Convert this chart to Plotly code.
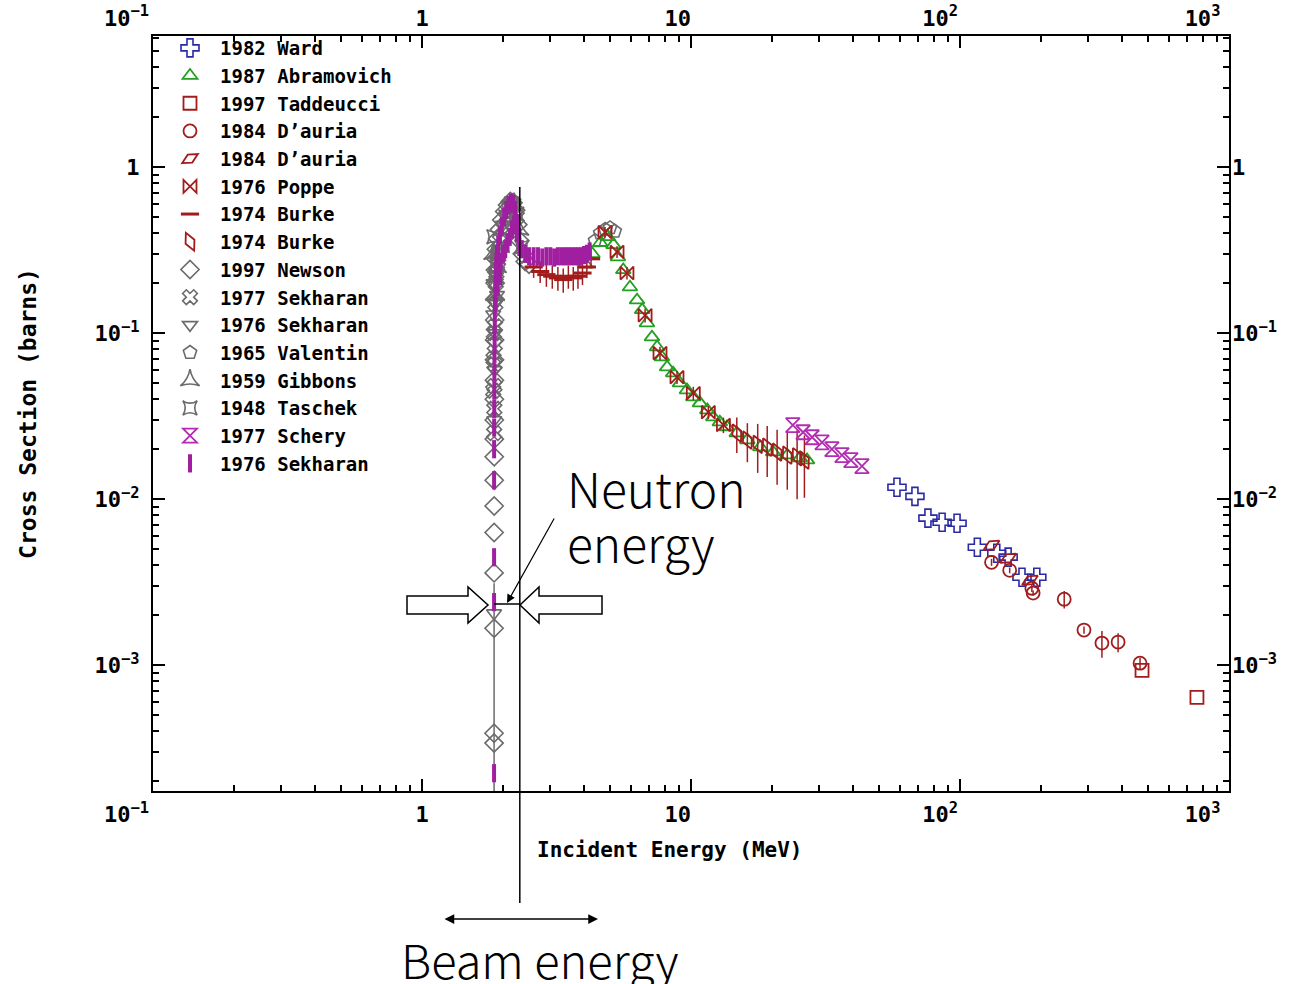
import math
import plotly.graph_objects as go

# ---------------- data ----------------
ward_E = [58.3, 68.0, 76.0, 85.8, 97.5, 116, 137, 151, 170, 193]
ward_xs = [0.0118, 0.0104, 0.00769, 0.00727, 0.00717, 0.00514, 0.00473, 0.00448, 0.00339, 0.00339]

abram_E = [4.05, 4.3, 4.6, 4.9, 5.15, 5.35, 5.6, 5.93, 6.3, 6.58, 6.86, 7.16, 7.48, 7.8, 8.15,
           8.58, 9.1, 9.66, 10.2, 10.8, 11.5, 12.1, 12.8, 13.6, 14.8, 16.2, 18.1, 20.2, 22.8, 25.4, 27.0]
abram_xs = [0.26, 0.30, 0.35, 0.38, 0.34, 0.287, 0.24, 0.189, 0.158, 0.138, 0.115, 0.0946, 0.0824,
            0.0717, 0.0624, 0.0574, 0.050, 0.0454, 0.0412, 0.0379, 0.0344, 0.0312, 0.0291, 0.0272,
            0.025, 0.0227, 0.0206, 0.0192, 0.0184, 0.0177, 0.0172]

tadd_E = [475, 760]
tadd_xs = [9.33e-4, 6.41e-4]

dauria_c_E = [131, 153, 185, 187, 244, 289, 337, 387, 467]
dauria_c_xs = [4.17e-3, 3.73e-3, 2.91e-3, 2.72e-3, 2.50e-3, 1.63e-3, 1.36e-3, 1.38e-3, 1.03e-3]
dauria_c_err = [0.2e-3, 0.15e-3, 0.15e-3, 0.1e-3, 0.3e-3, 0.08e-3, 0.25e-3, 0.18e-3, 0.08e-3]

dauria_p_E = [131, 151, 182]
dauria_p_xs = [5.28e-3, 4.41e-3, 3.25e-3]

poppe_E = [4.79, 5.31, 5.78, 6.75, 7.67, 8.87, 10.2, 11.6, 13.2]
poppe_xs = [0.406, 0.308, 0.230, 0.128, 0.0758, 0.0543, 0.0435, 0.0334, 0.028]
poppe_err = [0.03, 0.025, 0.02, 0.012, 0.007, 0.005, 0.004, 0.003, 0.003]

burke1_E = [2.6, 2.75, 2.9, 3.05, 3.2, 3.35, 3.5, 3.65, 3.8, 3.95, 4.1, 4.25]
burke1_xs = [0.25, 0.235, 0.225, 0.22, 0.215, 0.21, 0.22, 0.215, 0.22, 0.23, 0.25, 0.28]
burke1_err = [0.035] * 12

burke2_E = [14.8, 16.2, 17.7, 19.2, 20.9, 22.8, 24.8, 26.4]
burke2_xs = [0.025, 0.0227, 0.0214, 0.0206, 0.0192, 0.0184, 0.018, 0.0172]
burke2_err = [0.006, 0.006, 0.007, 0.007, 0.007, 0.007, 0.008, 0.007]

newson_E = [1.853, 1.8531, 1.8535, 1.854, 1.8545, 1.855, 1.8555, 1.856, 1.8565, 1.857, 1.858,
            1.859, 1.86, 1.862, 1.864, 1.867, 1.87, 1.875, 1.88, 1.89, 1.91, 1.94, 1.98, 2.03,
            2.08, 2.13, 2.18, 2.23, 2.27, 2.31, 2.36, 2.42, 2.5]
newson_xs = [3.9e-4, 3.4e-4, 1.67e-3, 3.6e-3, 6.3e-3, 9.1e-3, 0.013, 0.018, 0.023, 0.030, 0.040,
             0.052, 0.069, 0.091, 0.12, 0.16, 0.20, 0.24, 0.28, 0.32, 0.37, 0.42, 0.48, 0.54,
             0.59, 0.62, 0.61, 0.55, 0.45, 0.36, 0.30, 0.27, 0.26]
newson_errp = [0] * 33
newson_errm = [0] * 33
newson_errp[2] = 1.45e-3
newson_errm[2] = 1.67e-3 - 1e-6

sek77_E = [1.84, 1.845, 1.85, 1.855, 1.857, 1.859, 1.861, 1.864, 1.868, 1.873, 1.88, 1.89, 1.9,
           1.92, 1.95, 2.0, 2.05, 2.15, 2.25]
sek77_xs = [0.045, 0.07, 0.1, 0.025, 0.035, 0.048, 0.065, 0.085, 0.11, 0.15, 0.2, 0.23, 0.26,
            0.3, 0.36, 0.43, 0.5, 0.6, 0.5]

sek76g_E = [1.853, 1.84, 1.845, 1.856, 1.86, 1.865, 1.872, 1.885, 1.9, 1.92, 2.0, 2.12, 2.2]
sek76g_xs = [2.06e-3, 0.13, 0.2, 0.03, 0.06, 0.1, 0.15, 0.22, 0.17, 0.25, 0.45, 0.6, 0.58]

valentin_E = [1.9, 2.1, 2.2, 4.4, 4.6, 4.8, 5.0, 5.2]
valentin_xs = [0.28, 0.58, 0.62, 0.36, 0.40, 0.42, 0.43, 0.41]

gibbons_E = [1.84, 1.87, 1.9, 1.95, 2.0, 2.1, 2.2, 2.3]
gibbons_xs = [0.3, 0.17, 0.25, 0.33, 0.42, 0.55, 0.6, 0.42]

taschek_E = [1.85, 1.88, 1.93, 2.05, 2.15, 2.25, 2.35]
taschek_xs = [0.38, 0.22, 0.3, 0.5, 0.6, 0.52, 0.33]

schery_E = [23.9, 26.1, 28.2, 30.7, 33.4, 36.4, 39.3, 43.2]
schery_xs = [0.0279, 0.0253, 0.0236, 0.0220, 0.0200, 0.0184, 0.0172, 0.0158]

sek76p_E = [1.853, 1.8532, 1.8534, 1.8536, 1.854, 1.855, 1.856, 1.857, 1.858, 1.86, 1.862, 1.865,
            1.868, 1.872, 1.877, 1.883, 1.89, 1.9, 1.92, 1.95, 1.98, 2.02, 2.06, 2.1, 2.14, 2.18,
            2.22, 2.26, 2.3, 2.35, 2.42, 2.5, 2.6, 2.7, 2.8, 2.9, 3.0, 3.1, 3.2, 3.3, 3.4, 3.5,
            3.6, 3.7, 3.8, 3.9, 4.0, 4.1, 4.2,
            1.9, 1.93, 1.96, 2.0, 2.04, 2.08, 2.12, 2.16, 2.2, 2.25, 2.3, 1.88, 1.91, 1.95]
sek76p_xs = [2.24e-4, 2.4e-3, 4.47e-3, 0.013, 0.02, 0.027, 0.035, 0.045, 0.058, 0.075, 0.095, 0.12,
             0.15, 0.18, 0.21, 0.24, 0.27, 0.30, 0.34, 0.39, 0.44, 0.50, 0.55, 0.59, 0.61, 0.60,
             0.55, 0.46, 0.38, 0.32, 0.30, 0.29, 0.29, 0.29, 0.285, 0.29, 0.29, 0.285, 0.29, 0.29,
             0.29, 0.29, 0.29, 0.29, 0.29, 0.29, 0.295, 0.30, 0.31,
             0.2, 0.24, 0.27, 0.3, 0.32, 0.35, 0.38, 0.42, 0.45, 0.4, 0.33, 0.16, 0.19, 0.22]

x_tickvals = [0.1, 1, 10, 100, 1000]
x_ticktext = ["10<sup>\u22121</sup>\u00a0\u00a0\u00a0\u00a0", "1", "10\u00a0\u00a0",
              "10<sup>2</sup>\u00a0\u00a0\u00a0", "10<sup>3</sup>\u00a0\u00a0\u00a0\u00a0"]
y_tickvals = [1e-3, 1e-2, 1e-1, 1]
y_ticktext = ["10<sup>\u22123</sup>", "10<sup>\u22122</sup>", "10<sup>\u22121</sup>", "1"]

beam_energy = 2.31

# ---------------- styling ----------------
W, H = 1292, 984
L, R, T, B = 153, 1229, 36, 791   # plot area in screen pixels
X_RANGE = [-1, 3]
Y_RANGE = [math.log10(1.75e-4), math.log10(6.15)]

BLUE = "#2a2aa6"
GREEN = "#22a022"
RED = "#a31c1c"
GREY = "#6b6b6b"
PURPLE = "#a01fa0"
MAGENTA = "#b22cb2"
MONO = "DejaVu Sans Mono"


def px(x):
    return (x - L) / (R - L)


def py(y):
    return (B - y) / (B - T)


fig = go.Figure()


def add(name, E, xs, symbol, color, rank, size=13, lw=1.8, err=None, errm=None, angle=0):
    ey = None
    if err is not None:
        ey = dict(type="data", array=err, arrayminus=errm if errm is not None else err,
                  color=color, thickness=1.5, width=0, visible=True)
    fig.add_trace(go.Scatter(
        x=E, y=xs, name=name, mode="markers", legendrank=rank,
        marker=dict(symbol=symbol, size=size, color=color, angle=angle,
                    line=dict(width=lw, color=color)),
        error_y=ey,
    ))


add("1997 Newson", newson_E, newson_xs, "diamond-open", GREY, 9, size=14, lw=1.6, err=newson_errp, errm=newson_errm)
add("1977 Sekharan", sek77_E, sek77_xs, "x-open", GREY, 10, size=13, lw=1.6)
add("1976 Sekharan", sek76g_E, sek76g_xs, "triangle-down-open", GREY, 11, size=13, lw=1.6)
add("1965 Valentin", valentin_E, valentin_xs, "pentagon-open", GREY, 12, size=14, lw=1.6)
add("1959 Gibbons", gibbons_E, gibbons_xs, "star-triangle-up-open", GREY, 13, size=14, lw=1.6)
add("1948 Taschek", taschek_E, taschek_xs, "star-square-open", GREY, 14, size=13, lw=1.6)
add("1987 Abramovich", abram_E, abram_xs, "triangle-up-open", GREEN, 2, size=13)
add("1976 Poppe", poppe_E, poppe_xs, "bowtie-open", RED, 6, size=13, err=poppe_err)
add("1974 Burke", burke1_E, burke1_xs, "line-ew-open", RED, 7, size=13, lw=3, err=burke1_err)
add("1974 Burke", burke2_E, burke2_xs, "diamond-tall-open", RED, 8, size=14, err=burke2_err, angle=-25)
add("1982 Ward", ward_E, ward_xs, "cross-open", BLUE, 1, size=15, lw=1.6)
add("1997 Taddeucci", tadd_E, tadd_xs, "square-open", RED, 3, size=13)
add("1984 D\u2019auria", dauria_c_E, dauria_c_xs, "circle-open", RED, 4, size=13, err=dauria_c_err)
add("1984 D\u2019auria", dauria_p_E, dauria_p_xs, "diamond-tall-open", RED, 5, size=13, angle=60)
add("1977 Schery", schery_E, schery_xs, "hourglass-open", MAGENTA, 15, size=14)
add("1976 Sekharan", sek76p_E, sek76p_xs, "line-ns-open", PURPLE, 16, size=13, lw=4,
    err=[0.02 * v for v in sek76p_xs])

# empty trace to create the mirrored (top / right) label axes
fig.add_trace(go.Scatter(x=[], y=[], xaxis="x2", yaxis="y2", showlegend=False, hoverinfo="skip"))

tickfont = dict(family=MONO, size=22, color="black", weight="bold")
titlefont = dict(family=MONO, size=21, color="black", weight="bold")
minor_x = [k * 10.0 ** d for d in range(-1, 3) for k in range(2, 10)]
minor_y = [k * 10.0 ** d for d in range(-4, 1) for k in range(2, 10)]

common = dict(type="log", showgrid=False, zeroline=False, ticks="inside", ticklen=12, tickwidth=1.5,
              tickcolor="black", tickfont=tickfont)
minor = dict(ticks="inside", ticklen=6, tickwidth=1.5, tickcolor="black")

fig.update_layout(
    width=W, height=H, autosize=False,
    margin=dict(l=L, r=W - R, t=T, b=H - B, pad=0, autoexpand=False),
    paper_bgcolor="white", plot_bgcolor="white",
    xaxis=dict(range=X_RANGE, tickvals=x_tickvals, ticktext=x_ticktext, showline=True, linecolor="black",
               linewidth=2, mirror=True, ticklabelstandoff=3,
               minor=dict(tickvals=minor_x, **minor), **common),
    yaxis=dict(range=Y_RANGE, tickvals=y_tickvals, ticktext=y_ticktext, showline=True, linecolor="black",
               linewidth=2, mirror=True, ticklabelstandoff=7,
               minor=dict(tickvals=minor_y, **minor),
               title=dict(text="Cross Section (barns)", font=dict(family=MONO, size=23, color="black",
                                                                  weight="bold"), standoff=52), **common),
    xaxis2=dict(range=X_RANGE, tickvals=x_tickvals, ticktext=x_ticktext, overlaying="x", side="top",
                anchor="y", showline=False, ticklabelstandoff=5,
                minor=dict(tickvals=minor_x, **minor), **common),
    yaxis2=dict(range=Y_RANGE, tickvals=y_tickvals, ticktext=y_ticktext, overlaying="y", side="right",
                anchor="x", showline=False, ticklabelstandoff=2,
                minor=dict(tickvals=minor_y, **minor), **common),
    legend=dict(x=px(160), y=py(29), xanchor="left", yanchor="top", bgcolor="rgba(0,0,0,0)",
                font=dict(family=MONO, size=19, color="black", weight="bold"), itemwidth=50,
                tracegroupgap=0),
)

# x-axis title (placed slightly left of centre, as in the reference)
fig.add_annotation(xref="paper", yref="paper", x=px(670), y=py(850), text="Incident Energy (MeV)",
                   showarrow=False, xanchor="center", yanchor="middle", font=titlefont)

# ---------------- annotation graphics ----------------
bx = px(153 + 269 * (math.log10(beam_energy) + 1))
fig.add_shape(type="line", xref="paper", yref="paper", x0=bx, x1=bx, y0=py(187), y1=py(903),
              line=dict(color="black", width=1.5))
fig.add_shape(type="line", xref="paper", yref="paper", x0=px(494), x1=bx, y0=py(604), y1=py(604),
              line=dict(color="black", width=1.5))


def path(points):
    return "M " + " L ".join(f"{px(a):.5f},{py(b):.5f}" for a, b in points) + " Z"


left_arrow = [(407, 596), (468, 596), (468, 587), (488, 605), (468, 623), (468, 614), (407, 614)]
right_arrow = [(602, 596), (539, 596), (539, 587), (520, 605), (539, 623), (539, 614), (602, 614)]
for pts in (left_arrow, right_arrow):
    fig.add_shape(type="path", xref="paper", yref="paper", path=path(pts),
                  line=dict(color="black", width=1.5), fillcolor="white")

TEXTFONT = "Noto Sans CJK JP"
fig.add_annotation(xref="paper", yref="paper", x=px(565), y=py(487), text="Neutron", showarrow=False,
                   xanchor="left", yanchor="middle",
                   font=dict(family=TEXTFONT, size=48, color="black", weight=300))
fig.add_annotation(xref="paper", yref="paper", x=px(565), y=py(542), text="energy", showarrow=False,
                   xanchor="left", yanchor="middle",
                   font=dict(family=TEXTFONT, size=48, color="black", weight=300))
fig.add_annotation(xref="paper", yref="paper", x=px(507), y=py(603), ax=555 - 507, ay=517 - 603,
                   text="", showarrow=True, arrowhead=2, arrowsize=1.4, arrowwidth=1.2, arrowcolor="black")
fig.add_annotation(xref="paper", yref="paper", x=px(598), y=py(919), ax=443 - 598, ay=0, text="",
                   showarrow=True, arrowhead=2, startarrowhead=2, arrowside="end+start", arrowsize=1.3,
                   startarrowsize=1.3, arrowwidth=1.5, arrowcolor="black")
fig.add_annotation(xref="paper", yref="paper", x=px(540), y=py(958), text="Beam energy", showarrow=False,
                   xanchor="center", yanchor="middle",
                   font=dict(family=TEXTFONT, size=47, color="black", weight=300))

# remove the default page margin so the figure fills the window exactly; hide the mode bar
fig.write_html("out.html", config={"displayModeBar": False},
               post_script="document.body.style.margin='0px';")
